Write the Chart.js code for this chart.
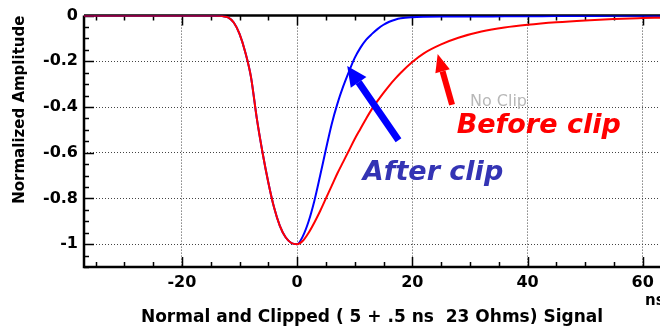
<!DOCTYPE html>
<html>
<head>
<meta charset="utf-8">
<script src="https://cdn.jsdelivr.net/npm/chart.js@4"></script>
<style>
  html, body { margin: 0; padding: 0; background: #fff; }
  #wrap { width: 660px; height: 330px; }
</style>
</head>
<body>
<div id="wrap"><canvas id="grafico" width="660" height="330"></canvas></div>
<script>
// Dados (tempo em ns, amplitude normalizada)
const timeNs = [-37, -30, -20, -15, -13, -12, -11, -10, -9, -8, -7, -6, -5, -4, -3, -2, -1,
  0, 1, 2, 3, 4, 5, 6, 7, 8, 9, 10, 11, 12, 13, 14, 15, 16, 17, 18,
  20, 22, 25, 28, 32, 36, 40, 45, 50, 55, 60, 63];

const beforeClip = [0, 0, 0, 0, -0.002, -0.008, -0.03, -0.08, -0.16, -0.27, -0.45, -0.60, -0.73, -0.84, -0.92, -0.97, -0.995,
  -1.0, -0.985, -0.95, -0.905, -0.855, -0.80, -0.745, -0.69, -0.64, -0.59, -0.54, -0.495, -0.45, -0.408, -0.372, -0.338, -0.306, -0.277, -0.25,
  -0.203, -0.165, -0.126, -0.097, -0.07, -0.052, -0.04, -0.029, -0.021, -0.015, -0.011, -0.009];

const afterClip = [0, 0, 0, 0, -0.002, -0.008, -0.03, -0.08, -0.16, -0.27, -0.45, -0.60, -0.73, -0.84, -0.92, -0.97, -0.995,
  -1.0, -0.965, -0.9, -0.81, -0.70, -0.585, -0.475, -0.385, -0.31, -0.245, -0.185, -0.14, -0.105, -0.08, -0.058, -0.04, -0.027, -0.018, -0.012,
  -0.007, -0.005, -0.004, -0.004, -0.004, -0.003, -0.003, -0.002, -0.002, -0.001, -0.001, -0.001];

const xTicks = [-20, 0, 20, 40, 60];
const yTicks = [0, -0.2, -0.4, -0.6, -0.8, -1];

const FONT = '"DejaVu Sans", sans-serif';

// Setas e textos de anotação (em coordenadas dos eixos)
const notes = {
  blueArrow: { from: [17.6, -0.545], to: [8.7, -0.22], color: '#0000ff', width: 7, head: 20, headW: 19 },
  redArrow: { from: [26.9, -0.39], to: [24.4, -0.168], color: '#ff0000', width: 6, head: 18, headW: 15 },
  after: { text: 'After clip', at: [11.4, -0.72], color: '#3434b4' },
  before: { text: 'Before clip', at: [27.7, -0.515], color: '#ff0000' },
  noClip: { text: 'No Clip', at: [30.0, -0.397] }
};

function seta(ctx, x1, y1, x2, y2, cfg) {
  const ang = Math.atan2(y2 - y1, x2 - x1);
  const bx = x2 - Math.cos(ang) * cfg.head;
  const by = y2 - Math.sin(ang) * cfg.head;
  ctx.strokeStyle = cfg.color;
  ctx.fillStyle = cfg.color;
  ctx.lineWidth = cfg.width;
  ctx.lineCap = 'butt';
  ctx.beginPath();
  ctx.moveTo(x1, y1);
  ctx.lineTo(bx, by);
  ctx.stroke();
  const nx = -Math.sin(ang) * cfg.headW / 2;
  const ny = Math.cos(ang) * cfg.headW / 2;
  ctx.beginPath();
  ctx.moveTo(x2, y2);
  ctx.lineTo(bx + nx, by + ny);
  ctx.lineTo(bx - nx, by - ny);
  ctx.closePath();
  ctx.fill();
}

// Moldura com marcas internas
const molduraPlugin = {
  id: 'moldura',
  beforeDatasetsDraw(chart) {
    const { ctx, chartArea: a, scales: { x, y } } = chart;
    ctx.save();
    ctx.strokeStyle = '#000';
    ctx.lineWidth = 1.5;
    for (let v = -35; v <= 63; v += 5) {
      const px = Math.round(x.getPixelForValue(v)) + 0.5;
      const len = v % 20 === 0 ? 10 : 5;
      ctx.beginPath();
      ctx.moveTo(px, a.bottom); ctx.lineTo(px, a.bottom - len);
      ctx.moveTo(px, a.top); ctx.lineTo(px, a.top + len);
      ctx.stroke();
    }
    for (let i = 0; i <= 22; i++) {
      const py = Math.round(y.getPixelForValue(-i * 0.05)) + 0.5;
      const len = i % 4 === 0 ? 10 : 5;
      ctx.beginPath();
      ctx.moveTo(a.left, py); ctx.lineTo(a.left + len, py);
      ctx.stroke();
    }
    ctx.lineWidth = 2.5;
    ctx.beginPath();
    ctx.moveTo(a.left, a.top); ctx.lineTo(a.right, a.top);
    ctx.moveTo(a.left, a.top); ctx.lineTo(a.left, a.bottom);
    ctx.lineTo(a.right, a.bottom);
    ctx.stroke();
    ctx.restore();
  },
  afterDatasetsDraw(chart) {
    const { ctx, scales: { x, y } } = chart;
    const p = (pt) => [x.getPixelForValue(pt[0]), y.getPixelForValue(pt[1])];
    ctx.save();
    ctx.font = '16px ' + FONT;
    ctx.fillStyle = '#b8b8b8';
    ctx.textBaseline = 'alphabetic';
    let q = p(notes.noClip.at);
    ctx.fillText(notes.noClip.text, q[0], q[1]);

    [notes.blueArrow, notes.redArrow].forEach(a => {
      const f = p(a.from), t = p(a.to);
      seta(ctx, f[0], f[1], t[0], t[1], a);
    });

    ctx.font = 'italic bold 27px ' + FONT;
    [notes.after, notes.before].forEach(n => {
      const r = p(n.at);
      ctx.fillStyle = n.color;
      ctx.fillText(n.text, r[0], r[1]);
    });

    ctx.font = 'bold 15px ' + FONT;
    ctx.fillStyle = '#000';
    ctx.fillText('ns', 645, 305);
    ctx.restore();
  }
};

const ctx = document.getElementById('grafico').getContext('2d');
const grafico = new Chart(ctx, {
  type: 'line',
  data: {
    datasets: [{
      label: 'Before clip',
      data: timeNs.map((t, i) => ({ x: t, y: beforeClip[i] })),
      borderColor: '#ff0000',
      borderWidth: 2,
      pointRadius: 0,
      cubicInterpolationMode: 'monotone'
    }, {
      label: 'After clip',
      data: timeNs.map((t, i) => ({ x: t, y: afterClip[i] })),
      borderColor: '#0000ff',
      borderWidth: 2,
      pointRadius: 0,
      cubicInterpolationMode: 'monotone'
    }]
  },
  options: {
    responsive: false,
    animation: false,
    layout: { padding: { top: 14, right: 0, left: 0, bottom: 0 } },
    plugins: { legend: { display: false }, tooltip: { enabled: false } },
    scales: {
      x: {
        type: 'linear',
        min: -37,
        max: 63,
        afterBuildTicks: s => { s.ticks = xTicks.map(v => ({ value: v })); },
        afterFit: s => { s.height = 63; },
        grid: { color: '#444', lineWidth: 1, drawTicks: false },
        border: { display: false, dash: [1, 2] },
        ticks: {
          padding: 6,
          color: '#000',
          font: { family: FONT, size: 16, weight: 'bold' }
        },
        title: {
          display: true,
          text: 'Normal and Clipped ( 5 + .5 ns  23 Ohms) Signal',
          color: '#000',
          font: { family: FONT, size: 17, weight: 'bold' },
          padding: { top: 0, bottom: 2 }
        }
      },
      y: {
        type: 'linear',
        min: -1.1,
        max: 0,
        afterBuildTicks: s => { s.ticks = yTicks.map(v => ({ value: v })); },
        afterFit: s => { s.width = 84; },
        grid: { color: '#444', lineWidth: 1, drawTicks: false },
        border: { display: false, dash: [1, 2] },
        ticks: {
          padding: 6,
          color: '#000',
          font: { family: FONT, size: 16, weight: 'bold' },
          callback: v => String(Math.round(v * 10) / 10)
        },
        title: {
          display: true,
          text: 'Normalized Amplitude',
          align: 'end',
          color: '#000',
          font: { family: FONT, size: 15, weight: 'bold' },
          padding: { top: 11, bottom: 0 }
        }
      }
    }
  },
  plugins: [molduraPlugin]
});
</script>
</body>
</html>
